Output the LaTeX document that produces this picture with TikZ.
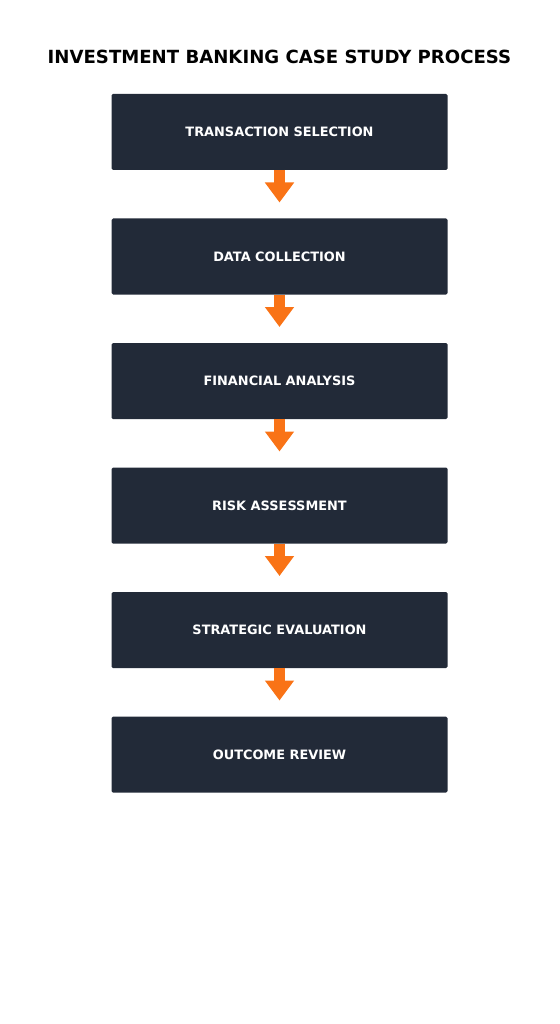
\documentclass[tikz,border=0pt]{standalone}
\usepackage{fontspec}
\setmainfont{DejaVu Sans}
\usepackage{tikz}
\usetikzlibrary{positioning,arrows.meta}

\definecolor{boxnavy}{HTML}{222A38}
\definecolor{flowor}{HTML}{F97316}

\tikzset{
  stepbox/.style={fill=boxnavy, text=white, font=\bfseries\fontsize{12.9}{15}\selectfont,
    minimum width=336pt, minimum height=76pt, inner sep=0pt, outer sep=0pt, rounded corners=1.5pt},
  flowarrow/.style={draw=flowor, line width=11pt,
    -{Triangle[width=28pt,length=20pt,fill=flowor]}, shorten >=16pt}
}

\begin{document}
\begin{tikzpicture}[node distance=48.5pt]
\useasboundingbox (0,0) rectangle (559pt,-1024pt);
% title
\node (title) at (279.5pt,-57pt) {\bfseries\fontsize{18.1}{22}\selectfont INVESTMENT BANKING CASE STUDY PROCESS};
% steps
\node[stepbox] (select) at (279.5pt,-132pt) {TRANSACTION SELECTION};
\node[stepbox, below=of select] (data) {DATA COLLECTION};
\node[stepbox, below=of data] (finance) {FINANCIAL ANALYSIS};
\node[stepbox, below=of finance] (risk) {RISK ASSESSMENT};
\node[stepbox, below=of risk] (strategy) {STRATEGIC EVALUATION};
\node[stepbox, below=of strategy] (review) {OUTCOME REVIEW};
% arrows
\draw[flowarrow] (select) -- (data);
\draw[flowarrow] (data) -- (finance);
\draw[flowarrow] (finance) -- (risk);
\draw[flowarrow] (risk) -- (strategy);
\draw[flowarrow] (strategy) -- (review);
\end{tikzpicture}
\end{document}
